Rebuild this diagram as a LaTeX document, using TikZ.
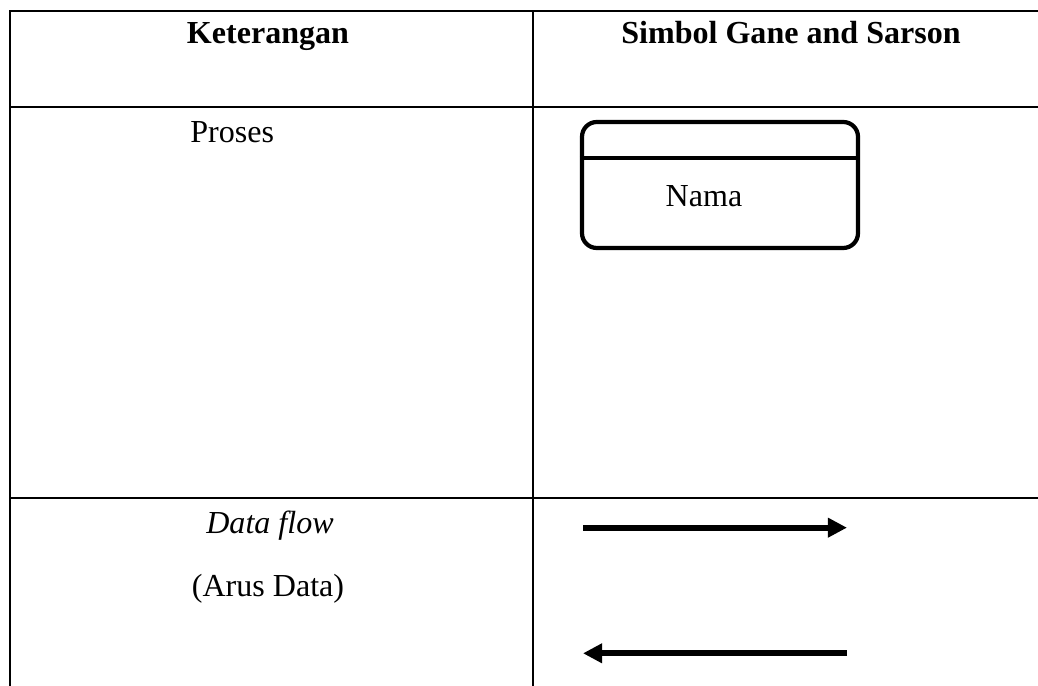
\documentclass[tikz,border=0pt]{standalone}
\usepackage{fontspec}
\setmainfont{Liberation Serif}
\usetikzlibrary{arrows.meta}

\tikzset{
    grid line/.style = {line width = 2.1pt, line cap = rect},
    cell text/.style = {anchor = base, inner sep = 0pt,
        font = \fontsize{22.8}{27}\selectfont},
    flow/.style = {line width = 4.4pt,
        -{Triangle[length = 0.48cm, width = 0.47cm]}}
}

\begin{document}
\begin{tikzpicture}

    \useasboundingbox (0,0) rectangle (25.95,17.15);

    % table
    \coordinate (tl) at (0.25,16.875);
    \coordinate (tm) at (13.325,16.875);
    \coordinate (tr) at (25.95,16.875);
    \coordinate (bl) at (0.25,-0.2);
    \coordinate (bm) at (13.325,-0.2);
    \coordinate (hl) at (0.25,14.475);
    \coordinate (hr) at (25.95,14.475);
    \coordinate (rl) at (0.25,4.7);
    \coordinate (rr) at (25.95,4.7);

    \draw[grid line] (tl) -- (tr);
    \draw[grid line] (hl) -- (hr);
    \draw[grid line] (rl) -- (rr);
    \draw[grid line] (tl) -- (bl);
    \draw[grid line] (tm) -- (bm);

    % header
    \node[cell text, font = \fontsize{22.8}{27}\selectfont\bfseries] (head1) at (6.7,16.05) {Keterangan};
    \node[cell text, font = \fontsize{22.8}{27}\selectfont\bfseries] (head2) at (19.775,16.05) {Simbol Gane and Sarson};

    % proses
    \node[cell text, anchor = base west] (proses) at (4.75,13.575) {Proses};

    \node[rectangle,
    draw = black,
    line width = 3pt,
    rounded corners = 0.37cm,
    minimum width = 6.9cm,
    minimum height = 3.15cm] (proc) at (18.0,12.525) {};

    \draw[line width = 3pt] ([yshift=-0.95cm]proc.north west) -- ([yshift=-0.95cm]proc.north east);

    \node[cell text] (nama) at (17.6,11.975) {Nama};

    % data flow
    \node[cell text, font = \fontsize{22.8}{27}\selectfont\itshape] (flow1) at (6.75,3.8) {Data flow};
    \node[cell text] (flow2) at (6.7,2.225) {(Arus Data)};

    \coordinate (a1) at (14.575,3.958);
    \coordinate (a1') at (21.175,3.958);
    \coordinate (a2) at (21.175,0.8175);
    \coordinate (a2') at (14.575,0.8175);

      \draw[flow] (a1) to (a1');
      \draw[flow] (a2) to (a2');
  \end{tikzpicture}
\end{document}
